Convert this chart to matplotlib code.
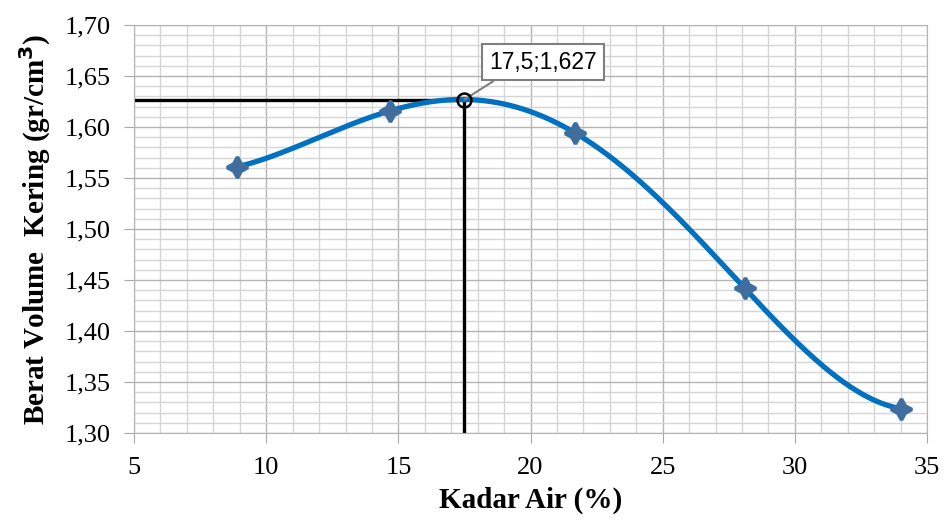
import matplotlib.pyplot as plt
from matplotlib.ticker import MultipleLocator, FuncFormatter
import numpy as np

# data
kadar_air = [8.9, 14.7, 21.7, 28.1, 34.0]
berat_volume = [1.561, 1.616, 1.594, 1.442, 1.324]
opt_x = 17.5
opt_y = 1.627
opt_label = '17,5;1,627'
trend_degree = 4

fig = plt.figure(figsize=(9.44, 5.22), dpi=100)
ax = fig.add_axes([0.142, 0.1705, 0.840, 0.7815])

# polynomial trendline through the points
coef = np.polyfit(kadar_air, berat_volume, trend_degree)
xs = np.linspace(min(kadar_air), max(kadar_air), 400)
ax.plot(xs, np.polyval(coef, xs), color='#0070c0', lw=3.8, solid_capstyle='round', zorder=3)
ax.plot(kadar_air, berat_volume, ls='none', marker=(4, 1, 0), ms=15, mew=2.6,
        color='#3f6e9e', zorder=4)

# optimum lines
ax.plot([5, opt_x], [opt_y, opt_y], color='black', lw=2.4, zorder=2)
ax.plot([opt_x, opt_x], [1.30, opt_y], color='black', lw=2.4, zorder=2)
ax.plot([opt_x], [opt_y], marker='o', ms=10, mfc='none', mec='black', mew=1.8, zorder=7)

ax.annotate(opt_label, xy=(opt_x, opt_y), xytext=(20.47, 1.6637),
            ha='center', va='center', fontsize=16.5, family='Liberation Sans',
            bbox=dict(boxstyle='square,pad=0.3', fc='white', ec='#7f7f7f', lw=1.5),
            arrowprops=dict(arrowstyle='-', color='#7f7f7f', lw=1.5,
                            shrinkA=0, shrinkB=0, relpos=(0.15, 0.0)),
            zorder=6)

# axes, grid
ax.set_xlim(5, 35)
ax.set_ylim(1.30, 1.70)
ax.xaxis.set_major_locator(MultipleLocator(5))
ax.xaxis.set_minor_locator(MultipleLocator(1))
ax.yaxis.set_major_locator(MultipleLocator(0.05))
ax.yaxis.set_minor_locator(MultipleLocator(0.01))
ax.yaxis.set_major_formatter(FuncFormatter(lambda v, p: f'{v:.2f}'.replace('.', ',')))
ax.grid(which='major', color='#b4b4b4', lw=1.0)
ax.grid(which='minor', color='#d6d6d6', lw=1.0)
ax.set_axisbelow(True)
for s in ax.spines.values():
    s.set_color('#b4b4b4')
ax.tick_params(which='major', length=7, color='#a8a8a8', labelsize=19)
ax.tick_params(which='minor', length=0)
ax.tick_params(axis='x', pad=10)
ax.tick_params(axis='y', pad=10)
for lab in ax.get_xticklabels() + ax.get_yticklabels():
    lab.set_fontfamily('Liberation Serif')

ax.set_xlabel('Kadar Air (%)', fontsize=21, fontweight='bold', family='Liberation Serif', labelpad=6)
ax.set_ylabel('Berat Volume  Kering (gr/cm$^\\mathbf{3}$)', fontsize=21, fontweight='bold',
              family='Liberation Serif', labelpad=8)

plt.savefig('out.png', dpi=100)
